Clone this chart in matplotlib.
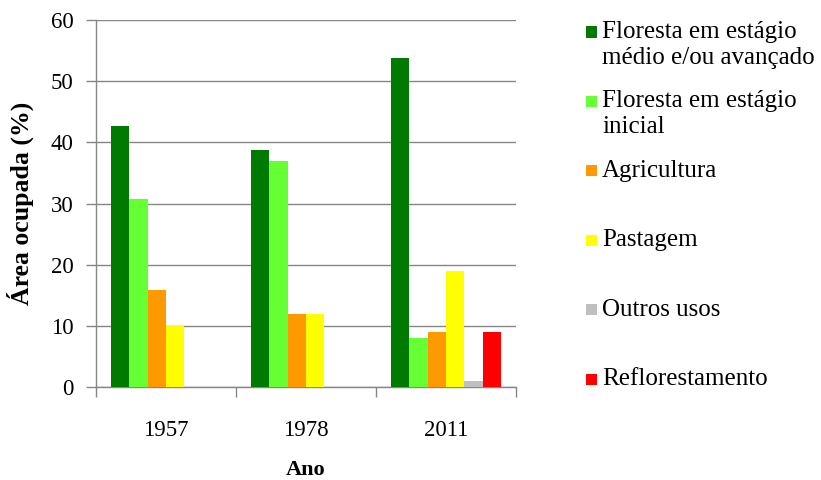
import numpy as np
import matplotlib
matplotlib.use("Agg")
import matplotlib.pyplot as plt
from matplotlib.patches import Rectangle

# dados
anos = ["1957", "1978", "2011"]
series = [
    "Floresta em estágio\nmédio e/ou avançado",
    "Floresta em estágio\ninicial",
    "Agricultura",
    "Pastagem",
    "Outros usos",
    "Reflorestamento",
]
floresta_media = [42.7, 38.8, 53.8]
floresta_inicial = [30.8, 36.9, 8.0]
agricultura = [15.9, 12.0, 9.0]
pastagem = [10.0, 12.0, 19.0]
outros_usos = [0.0, 0.0, 1.0]
reflorestamento = [0.0, 0.0, 9.0]
cores = ["#007A00", "#66FF33", "#FF9900", "#FFFF00", "#BFBFBF", "#FF0000"]

valores = [floresta_media, floresta_inicial, agricultura, pastagem,
           outros_usos, reflorestamento]

plt.rcParams['font.family'] = ['Liberation Serif', 'DejaVu Serif']

W, H = 821, 480
fig = plt.figure(figsize=(W / 100, H / 100), dpi=100)
ax = fig.add_axes([96 / W, 1 - 387 / H, (516 - 96) / W, (387 - 20) / H])

grid_color = "#868686"
x = np.arange(len(anos))
largura = 0.1314
for i, (vals, cor) in enumerate(zip(valores, cores)):
    ax.bar(x + (i - 2.5) * largura, vals, largura, color=cor, zorder=3)

ax.set_xlim(-0.5, 2.5)
ax.set_ylim(0, 60)
ax.set_yticks(range(0, 61, 10))
ax.yaxis.grid(True, color=grid_color, linewidth=1.0, zorder=0)
ax.set_axisbelow(True)

# ticks nas divisórias, rótulos no centro dos grupos
ax.set_xticks([-0.5, 0.5, 1.5, 2.5])
ax.set_xticklabels([])
ax.set_xticks(x, minor=True)
ax.set_xticklabels(anos, minor=True)
ax.tick_params(axis='x', which='major', length=7, color=grid_color, width=1)
ax.tick_params(axis='x', which='minor', length=0, pad=24, labelsize=16.5)
ax.tick_params(axis='y', length=7, color=grid_color, width=1, pad=9, labelsize=16.5)

for s in ["top", "right"]:
    ax.spines[s].set_visible(False)
for s in ["left", "bottom"]:
    ax.spines[s].set_color(grid_color)
    ax.spines[s].set_linewidth(1.0)

ax.set_ylabel("Área ocupada (%)", fontsize=18.5, fontweight='bold', labelpad=12)
fig.text(306 / W, 1 - 470 / H, "Ano", fontsize=16, fontweight='bold',
         ha='center', va='center')

# legenda desenhada à mão: marcador alinhado com a primeira linha
y0, passo, entre_linhas = 32, 69.4, 26
for i, (rotulo, cor) in enumerate(zip(series, cores)):
    yc = y0 + i * passo
    fig.patches.append(Rectangle((586 / W, 1 - (yc + 5.5) / H), 11 / W, 11 / H,
                                 transform=fig.transFigure, facecolor=cor,
                                 edgecolor='none'))
    for k, linha in enumerate(rotulo.split("\n")):
        fig.text(602 / W, 1 - (yc + 6 + k * entre_linhas) / H, linha,
                 fontsize=18, va='baseline', ha='left')

fig.savefig("out.png", dpi=100)
